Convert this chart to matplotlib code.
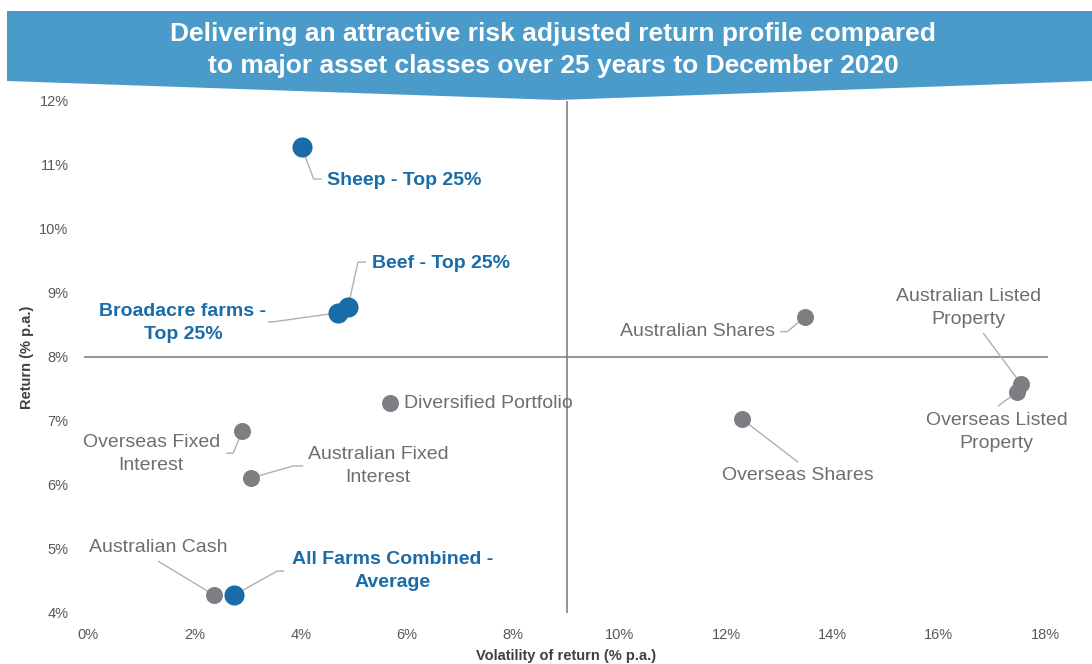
import numpy as np
import matplotlib
matplotlib.use("Agg")
import matplotlib.pyplot as plt
from matplotlib.patches import Polygon

plt.rcParams['font.family'] = ['Liberation Sans', 'DejaVu Sans']

# data: volatility (% p.a.), return (% p.a.)
names = ["Sheep - Top 25%", "Beef - Top 25%", "Broadacre farms -\nTop 25%",
         "All Farms Combined -\nAverage",
         "Diversified Portfolio", "Overseas Fixed\nInterest", "Australian Fixed\nInterest",
         "Australian Cash", "Australian Shares", "Overseas Shares",
         "Australian Listed\nProperty", "Overseas Listed\nProperty"]
volatility = [4.02, 4.89, 4.70, 2.75, 5.68, 2.90, 3.07, 2.37, 13.49, 12.30, 17.55, 17.47]
returns = [11.28, 8.78, 8.69, 4.28, 7.28, 6.84, 6.11, 4.28, 8.63, 7.03, 7.58, 7.45]
is_farm = [True, True, True, True, False, False, False, False, False, False, False, False]

x_ticks = list(range(0, 20, 2))
y_ticks = list(range(4, 13))

# label placement in pixels relative to the point (dx, dy with y down), alignment, leader knee points
label_pos = [(25, 33, 'left'), (24, -44, 'left'), (-155, 10, 'center'), (158, -24, 'center'),
             (14, 0, 'left'), (-91, 23, 'center'), (127, -12, 'center'),
             (-56, -48, 'center'), (-30, 15, 'right'), (56, 56, 'center'),
             (-53, -76, 'center'), (-20, 40, 'center')]
leaders = [[(12, 32), (20, 32)], [(10, -45), (18, -45)], [(-65, 9), (-70, 9)], [(43, -24), (50, -24)],
           [], [(-9, 22), (-16, 22)], [(42, -12), (52, -12)],
           [(-56, -34)], [(-18, 15), (-25, 15)], [(56, 43)],
           [(-38, -51)], [(-19, 14)]]

BLUE = '#1a6ca8'
GREY = '#7d7e82'
TEXT_GREY = '#6d6e71'

fig = plt.figure(figsize=(10.92, 6.64), dpi=100)
ax = fig.add_axes([88 / 1092, 51 / 664, 957 / 1092, 512 / 664])
ax.set_xlim(0, 18)
ax.set_ylim(4, 12)

# title banner
W, H = 1092, 664
banner = [(7, 11), (1092, 11), (1092, 81), (558, 100), (7, 81)]
fig.patches.append(Polygon([(px / W, 1 - py / H) for px, py in banner], closed=True,
                           transform=fig.transFigure, facecolor='#4a9bc9', edgecolor='none'))
fig.text(553 / W, 1 - 50 / H,
         "Delivering an attractive risk adjusted return profile compared\n"
         "to major asset classes over 25 years to December 2020",
         ha='center', va='center', color='white', fontsize=19, fontweight='bold',
         linespacing=1.45)

# quadrant lines
ax.axvline(9, color='#808080', lw=1.2, zorder=1)
ax.plot([-0.06, 18.04], [8, 8], color='#808080', lw=1.2, zorder=1, clip_on=False)

# leader lines
for x, y, offs in zip(volatility, returns, leaders):
    if not offs:
        continue
    p = ax.transData.transform((x, y))
    verts = [p] + [p + np.array([dx, -dy]) for dx, dy in offs]
    d = ax.transData.inverted().transform(np.array(verts))
    ax.plot(d[:, 0], d[:, 1], color='#b0b0b0', lw=1, zorder=2, solid_capstyle='butt')

# points
gx = [v for v, f in zip(volatility, is_farm) if not f]
gy = [r for r, f in zip(returns, is_farm) if not f]
bx = [v for v, f in zip(volatility, is_farm) if f]
by = [r for r, f in zip(returns, is_farm) if f]
ax.scatter(gx, gy, s=150, color=GREY, zorder=3, linewidths=0)
ax.scatter(bx, by, s=210, color=BLUE, zorder=4, linewidths=0)

# labels
for name, x, y, f, (dx, dy, ha) in zip(names, volatility, returns, is_farm, label_pos):
    ax.annotate(name, (x, y), xytext=(dx * 0.72, -dy * 0.72), textcoords='offset points',
                ha=ha, va='center', multialignment='center',
                fontsize=14, color=BLUE if f else TEXT_GREY,
                fontweight='bold' if f else 'normal', linespacing=1.45, zorder=5)

ax.set_xticks(x_ticks)
ax.set_xticklabels([f"{t}%" for t in x_ticks])
ax.set_yticks(y_ticks)
ax.set_yticklabels([f"{t}%" for t in y_ticks])
ax.tick_params(length=0, labelsize=10.5, colors='#595959')
ax.tick_params(axis='x', pad=11)
ax.tick_params(axis='y', pad=14)
for s in ax.spines.values():
    s.set_visible(False)

ax.set_xlabel("Volatility of return (% p.a.)", fontsize=10.5, fontweight='bold',
              color='#404040', labelpad=5)
ax.set_ylabel("Return (% p.a.)", fontsize=10.5, fontweight='bold', color='#404040', labelpad=4)

fig.savefig("out.png", dpi=100)
